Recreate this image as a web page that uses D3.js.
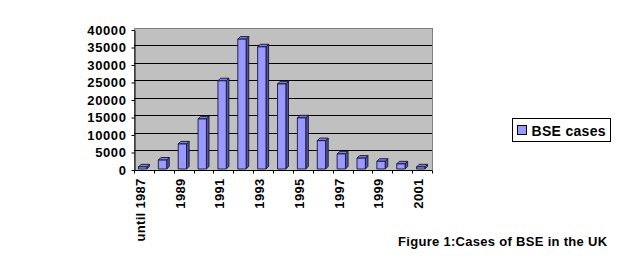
<!DOCTYPE html>
<html lang="en">
<head>
    <meta charset="UTF-8">
    <title>Cases of BSE in the UK</title>
    <style>
        body { margin: 0; background: #fff; }
        svg text {
            font-family: "Liberation Sans", Arial, sans-serif;
            font-weight: bold;
            fill: #000;
        }
        .wall { fill: #c0c0c0; stroke: #808080; stroke-width: 1; }
        .grid line { stroke: #000; stroke-width: 1; }
        .axis path, .axis line { stroke: #000; stroke-width: 1; }
        .bar .front { fill: #9999ff; }
        .bar .top   { fill: #7f7fd6; }
        .bar .side  { fill: #55559a; }
        .bar path { stroke: #14143a; stroke-width: 0.9; stroke-linejoin: round; }
    </style>
</head>
<body>
    <div id="chart"></div>
    <script src="https://cdn.jsdelivr.net/npm/d3@7/dist/d3.min.js"></script>
    <script>
    // values
    var categories = ["until 1987", "1988", "1989", "1990", "1991", "1992", "1993", "1994",
                      "1995", "1996", "1997", "1998", "1999", "2000", "2001"];
    var cases = [600, 2550, 7150, 14300, 25200, 37100, 34900, 24300,
                 14600, 8100, 4300, 3100, 2200, 1450, 600];
    var yTicks = [0, 5000, 10000, 15000, 20000, 25000, 30000, 35000, 40000];
    var seriesName = "BSE cases";
    var caption = "Figure 1:Cases of BSE in the UK";

    (function()
    {
        "use strict";

        var width = 620, height = 260;
        var plot = { left: 134, right: 432, top: 30, bottom: 170 };
        var depth = 2.5;   // 3d offset of the back wall

        var svg = d3.select("#chart").append("svg")
            .attr("width", width)
            .attr("height", height);

        var x = d3.scaleBand()
            .domain(categories)
            .range([plot.left, plot.right]);

        var y = d3.scaleLinear()
            .domain([0, d3.max(yTicks)])
            .range([plot.bottom, plot.top]);

        // back wall
        svg.append("rect")
            .attr("class", "wall")
            .attr("x", plot.left + 0.5)
            .attr("y", Math.round(y(d3.max(yTicks)) - depth) + 0.5)
            .attr("width", plot.right - plot.left)
            .attr("height", plot.bottom - Math.round(y(d3.max(yTicks)) - depth));

        svg.append("g").attr("class", "grid")
            .selectAll("line")
            .data(yTicks.slice(1, -1))
            .enter().append("line")
                .attr("x1", plot.left)
                .attr("x2", plot.right)
                .attr("y1", function(d) { return Math.round(y(d) - depth) + 0.5; })
                .attr("y2", function(d) { return Math.round(y(d) - depth) + 0.5; });

        // columns: front face, side face, top face
        var bw = x.bandwidth();
        var fw = bw * 0.42, dd = bw * 0.13, off = (bw - fw - dd) / 2;

        var bars = svg.append("g").selectAll("g.bar")
            .data(categories.map(function(c, i) { return { cat: c, value: cases[i] }; }))
            .enter().append("g").attr("class", "bar");

        bars.append("path").attr("class", "side")
            .attr("d", function(d)
            {
                var x1 = x(d.cat) + off + fw, y0 = y(0) - 1, y1 = y(d.value) - 1;
                return "M" + x1 + "," + y0 + "L" + x1 + "," + y1 + "l" + dd + "," + (-dd) +
                       "L" + (x1 + dd) + "," + (y0 - dd) + "Z";
            });

        bars.append("path").attr("class", "top")
            .attr("d", function(d)
            {
                var x0 = x(d.cat) + off, y1 = y(d.value) - 1;
                return "M" + x0 + "," + y1 + "l" + fw + ",0l" + dd + "," + (-dd) +
                       "l" + (-fw) + ",0Z";
            });

        bars.append("path").attr("class", "front")
            .attr("d", function(d)
            {
                var x0 = x(d.cat) + off, y0 = y(0) - 1, y1 = y(d.value) - 1;
                return "M" + x0 + "," + y0 + "L" + x0 + "," + y1 + "l" + fw + ",0L" + (x0 + fw) + "," + y0 + "Z";
            });

        // y axis
        var yAxis = svg.append("g").attr("class", "axis")
            .attr("transform", "translate(" + (plot.left + 0.5) + ",0)")
            .call(d3.axisLeft(y).tickValues(yTicks).tickSize(3).tickSizeOuter(0).tickPadding(5)
                .tickFormat(d3.format("d")));
        yAxis.selectAll("text")
            .style("font-size", "13px")
            .style("letter-spacing", "0.6px");

        // x axis: ticks on the category borders, a label every other year
        var xAxis = svg.append("g").attr("class", "axis")
            .attr("transform", "translate(0," + (plot.bottom + 0.5) + ")");

        xAxis.append("line")
            .attr("x1", plot.left).attr("x2", plot.right);

        xAxis.selectAll("line.tick")
            .data(categories.concat([null]))
            .enter().append("line")
                .attr("class", "tick")
                .attr("x1", function(d) { return Math.round(d === null ? plot.right : x(d)) + 0.5; })
                .attr("x2", function(d) { return Math.round(d === null ? plot.right : x(d)) + 0.5; })
                .attr("y1", 0).attr("y2", 3);

        xAxis.selectAll("text")
            .data(categories.filter(function(c, i) { return i % 2 === 0; }))
            .enter().append("text")
                .attr("transform", function(d)
                {
                    return "translate(" + (x(d) + bw / 2 - 3.5) + ",8) rotate(-90)";
                })
                .attr("text-anchor", "end")
                .attr("dy", "0.35em")
                .style("font-size", "13px")
                .style("letter-spacing", "0.3px")
                .text(function(d) { return d; });

        // legend
        var legend = svg.append("g").attr("transform", "translate(512.5,118.5)");
        legend.append("rect")
            .attr("width", 98).attr("height", 23)
            .attr("fill", "#fff").attr("stroke", "#000");
        legend.append("rect")
            .attr("x", 5).attr("y", 7).attr("width", 9).attr("height", 9)
            .attr("fill", "#9999ff").attr("stroke", "#000");
        legend.append("text")
            .attr("x", 19).attr("y", 17)
            .style("font-size", "14px")
            .style("letter-spacing", "0.3px")
            .text(seriesName);

        // caption
        svg.append("text")
            .attr("x", 398).attr("y", 246)
            .style("font-size", "13px")
            .style("letter-spacing", "0.3px")
            .text(caption);
    })();
    </script>
</body>
</html>
